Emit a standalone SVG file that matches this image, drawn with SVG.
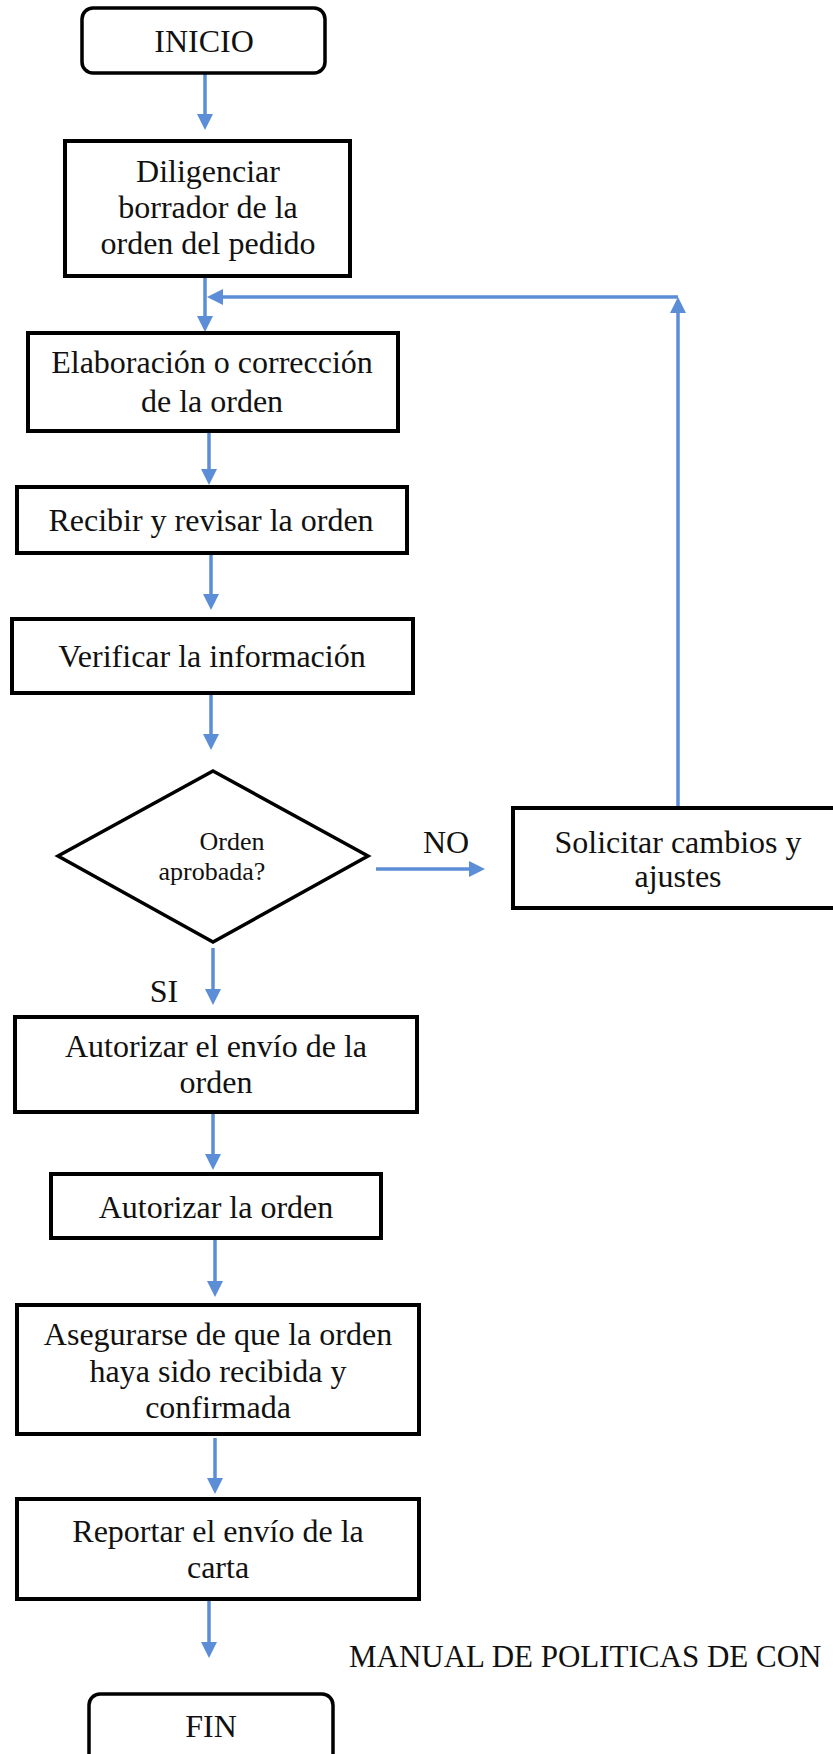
<svg xmlns="http://www.w3.org/2000/svg" width="833" height="1754" viewBox="0 0 833 1754">
  <style>
    .box { fill: #ffffff; stroke: #000000; stroke-width: 4; }
    .term { fill: #ffffff; stroke: #000000; stroke-width: 3.5; }
    .dec { fill: #ffffff; stroke: #000000; stroke-width: 3.5; stroke-linejoin: miter; }
    .lbl { font-family: "Liberation Serif", "Times New Roman", serif; font-size: 32px; fill: #111111; text-anchor: middle; }
    .small { font-size: 26px; }
    .start { text-anchor: start; }
    .flow { fill: none; stroke: #5B8ED6; stroke-width: 3.5; }
  </style>
  <defs>
    <marker id="arrow" markerUnits="userSpaceOnUse" markerWidth="16" markerHeight="16" viewBox="0 0 16 16" refX="11" refY="8" orient="auto">
      <path d="M0,0 L16,8 L0,16 Z" fill="#5B8ED6"/>
    </marker>
  </defs>
  <rect width="833" height="1754" fill="#ffffff"/>

  <!-- connectors -->
  <g id="connectors">
    <path class="flow" d="M205,73 V125" marker-end="url(#arrow)"/>
    <path class="flow" d="M205,276 V327" marker-end="url(#arrow)"/>
    <path class="flow" d="M678,808 V302" marker-end="url(#arrow)"/>
    <path class="flow" d="M678,297 H212" marker-end="url(#arrow)"/>
    <path class="flow" d="M209,431 V480" marker-end="url(#arrow)"/>
    <path class="flow" d="M211,553 V605" marker-end="url(#arrow)"/>
    <path class="flow" d="M211,693 V745" marker-end="url(#arrow)"/>
    <path class="flow" d="M376,869 H480" marker-end="url(#arrow)"/>
    <path class="flow" d="M213,948 V1000" marker-end="url(#arrow)"/>
    <path class="flow" d="M213,1112 V1165" marker-end="url(#arrow)"/>
    <path class="flow" d="M215,1238 V1292" marker-end="url(#arrow)"/>
    <path class="flow" d="M215,1438 V1489" marker-end="url(#arrow)"/>
    <path class="flow" d="M209,1599 V1653" marker-end="url(#arrow)"/>
    <text class="lbl" x="446" y="853">NO</text>
    <text class="lbl" x="164" y="1002">SI</text>
  </g>

  <g id="inicio">
    <rect class="term" x="82" y="8" width="243" height="65" rx="11"/>
    <text class="lbl" x="204" y="52">INICIO</text>
  </g>

  <g id="diligenciar">
    <rect class="box" x="65" y="141" width="285" height="135"/>
    <text class="lbl" x="208" y="182">Diligenciar</text>
    <text class="lbl" x="208" y="218">borrador de la</text>
    <text class="lbl" x="208" y="254">orden del pedido</text>
  </g>

  <g id="elaboracion">
    <rect class="box" x="28" y="333" width="370" height="98"/>
    <text class="lbl" x="212" y="373">Elaboración o corrección</text>
    <text class="lbl" x="212" y="412">de la orden</text>
  </g>

  <g id="recibir">
    <rect class="box" x="17" y="487" width="390" height="66"/>
    <text class="lbl" x="211" y="531">Recibir y revisar la orden</text>
  </g>

  <g id="verificar">
    <rect class="box" x="12" y="619" width="401" height="74"/>
    <text class="lbl" x="212" y="667">Verificar la información</text>
  </g>

  <g id="decision">
    <polygon class="dec" points="213,771 368,856 213,942 58,856"/>
    <text class="lbl small" x="232" y="850">Orden</text>
    <text class="lbl small" x="212" y="880">aprobada?</text>
  </g>

  <g id="solicitar">
    <rect class="box" x="513" y="808" width="330" height="100"/>
    <text class="lbl" x="678" y="853">Solicitar cambios y</text>
    <text class="lbl" x="678" y="887">ajustes</text>
  </g>

  <g id="autorizar-envio">
    <rect class="box" x="15" y="1017" width="402" height="95"/>
    <text class="lbl" x="216" y="1057">Autorizar el envío de la</text>
    <text class="lbl" x="216" y="1093">orden</text>
  </g>

  <g id="autorizar-orden">
    <rect class="box" x="51" y="1174" width="330" height="64"/>
    <text class="lbl" x="216" y="1218">Autorizar la orden</text>
  </g>

  <g id="asegurarse">
    <rect class="box" x="17" y="1305" width="402" height="129"/>
    <text class="lbl" x="218" y="1345">Asegurarse de que la orden</text>
    <text class="lbl" x="218" y="1382">haya sido recibida y</text>
    <text class="lbl" x="218" y="1418">confirmada</text>
  </g>

  <g id="reportar">
    <rect class="box" x="17" y="1499" width="402" height="100"/>
    <text class="lbl" x="218" y="1542">Reportar el envío de la</text>
    <text class="lbl" x="218" y="1578">carta</text>
  </g>

  <text class="lbl start" x="349" y="1667" style="font-size:31px">MANUAL DE POLITICAS DE CON</text>

  <g id="fin">
    <rect class="term" x="89" y="1694" width="244" height="75" rx="11"/>
    <text class="lbl" x="211" y="1737">FIN</text>
  </g>
</svg>
